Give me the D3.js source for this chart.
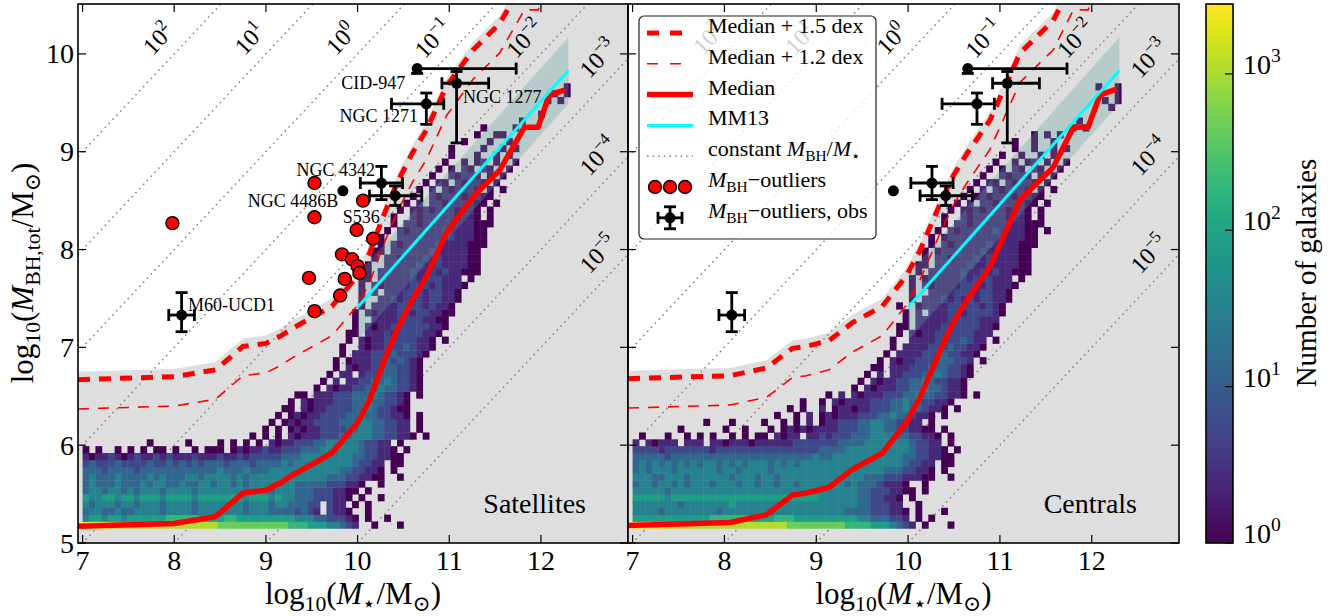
<!DOCTYPE html>
<html>
<head>
<meta charset="utf-8">
<script src="https://cdn.jsdelivr.net/npm/d3@7"></script>
<style>
  body { margin: 0; background: #fff; }
  svg text { font-family: "Liberation Serif", "Times New Roman", Times, "Nimbus Roman", "DejaVu Serif", serif; fill: #000; }
</style>
</head>
<body>
<script>
// ---- data ----
const massTicks = [7, 8, 9, 10, 11, 12]
const bhTicks = [5, 6, 7, 8, 9, 10]
const ratioExps = [2, 1, 0, -1, -2, -3, -4, -5]
const cbarTicks = [1, 10, 100, 1000]
const cbarExps = [0, 1, 2, 3]

// running medians of the two samples
const satMedX = [6.95, 8.0, 8.45, 8.75, 9.0, 9.15, 9.3, 9.55, 9.72, 10.0, 10.13, 10.28, 10.43, 10.6, 10.75, 10.97, 11.26, 11.55, 11.82, 11.97, 12.09, 12.26]
const satMedY = [5.17, 5.20, 5.27, 5.51, 5.54, 5.61, 5.70, 5.83, 5.92, 6.23, 6.46, 6.84, 7.18, 7.49, 7.72, 8.17, 8.54, 8.81, 9.25, 9.25, 9.58, 9.63]
const cenMedX = [6.95, 8.06, 8.46, 8.74, 8.89, 9.14, 9.39, 9.72, 9.98, 10.13, 10.35, 10.49, 10.64, 10.89, 11.22, 11.58, 11.80, 11.96, 12.09, 12.27]
const cenMedY = [5.18, 5.21, 5.29, 5.49, 5.51, 5.57, 5.75, 5.92, 6.23, 6.49, 6.97, 7.25, 7.48, 7.82, 8.51, 8.84, 9.25, 9.25, 9.58, 9.64]
const dexHigh = 1.5
const dexLow = 1.2
const shadeDex = 1.58

// McConnell & Ma 2013 relation
const mm13X = [10.0, 12.3]
const mm13Y = [7.41, 9.83]
const mm13Scatter = 0.34

// simulated outliers (satellites only)
const outX = [7.98, 9.53, 9.53, 9.47, 9.53, 10.06, 9.99, 10.17, 9.83, 9.94, 10.00, 10.02, 9.86, 9.81]
const outY = [8.27, 8.68, 8.33, 7.71, 7.37, 8.50, 8.20, 8.11, 7.95, 7.90, 7.83, 7.76, 7.70, 7.53]

// observed outliers
const obsNames = ['M60-UCD1', 'CID-947', 'NGC 1277', 'NGC 1271', 'NGC 4342', 'NGC 4486B', '']
const obsX = [8.08, 10.65, 11.08, 10.75, 10.26, 10.41, 9.84]
const obsY = [7.33, 9.85, 9.70, 9.49, 8.68, 8.55, 8.60]
const obsXLo = [0.14, 0, 0.16, 0.38, 0.23, 0.28, 0]
const obsXHi = [0.14, 1.08, 0.35, 0.19, 0.23, 0.29, 0]
const obsYLo = [0.17, 0.05, 0.61, 0.21, 0.17, 0.10, 0]
const obsYHi = [0.23, 0, 0.12, 0.11, 0.17, 0.10, 0]

// name tags (left panel)
const tagText = ['CID-947', 'NGC 1277', 'NGC 1271', 'NGC 4342', 'NGC 4486B', 'S536', 'M60-UCD1']
const tagX = [10.52, 11.15, 10.66, 10.19, 9.79, 10.04, 8.15]
const tagY = [9.71, 9.56, 9.37, 8.82, 8.50, 8.34, 7.44]
const tagAnchor = ['end', 'start', 'end', 'end', 'end', 'middle', 'start']

// 2D histograms: bins of 0.07 dex from (7.0, 5.15), rows bottom-up,
// "startCol|levels", level d -> count 10^(0.38 d), '.' = empty
const histX0 = 7.0, histY0 = 5.15, histBin = 0.07, levelDex = 0.38
const satHist = [
  "0|9999888888 8888888888 8777777777 7766655544 321..0...0",
  "0|4554554555 5556666655 5566555555 5554443322 210.0..0.",
  "0|3443343344 4434444344 4444434443 3332321.21 10..0",
  "0|4344434434 4434444344 4444434443 4433322.21 1.0.0",
  "0|5445545545 5545555455 5555545554 5443332221 10.0..0",
  "0|3443443434 4434444344 4444434443 4443332221 100.0",
  "0|3433343334 3443343344 3443434444 4443333322 2110..0",
  "0|3433343333 4343334434 4443434444 4444444433 3221100..0",
  "0|3332333323 3333333333 3433343334 4444444444 3322110.0.",
  "0|2322232222 3223232323 3323332333 3434444444 4432211.00",
  "0|1011210121 1212111211 1211212222 2333444444 4433221100",
  "0|0.0..0.0.0 .00.0..0.0 00.0101121 1222333444 444322110.0",
  "0|.......... 0.....0... .0.0.0.0.1 0112223344 44432211.0",
  "26|0.0.0.1011 1222334443 322110.0",
  "28|0.0.01011 2222334433 2211.0",
  "29|0.01011222 2333443322 11.0",
  "30|0.0101122 2233433221 10.0",
  "31|00.101122 2233432210 0",
  "32|0.1011122 2334332210",
  "33|00.11122 2333432210 .0",
  "36|0.10112 233433221 0",
  "37|0.1.112 23343221 0",
  "38|0.11.12 2333221 0",
  "39|0.1011 22332210",
  "39|0.0111 22323210",
  "40|0.1112 2232221 0",
  "40|0..1011 22232110",
  "41|0.1011 22222110 .0",
  "41|00.1112 12222110",
  "42|0.1011 222222110",
  "42|0..1111 2222110 0",
  "42|0.10111 22122110 0",
  "43|0.1111 22221211 0",
  "43|0..1121 21212211 0",
  "43|0.1.111 22212211 0",
  "43|0.10111 122212111 0",
  "43|00.1111 121222111 .0",
  "44|0.11111 2112121100 0",
  "44|0..1111 1211211110 0.",
  "45|0.1101 1121211110 0",
  "45|00.1111 1121111100",
  "46|0.1011 1112111100 0",
  "46|0..1111 1111211100",
  "47|0.1011 1112111100",
  "48|0.1101 1111111000",
  "48|0..1011 1110110.0",
  "49|0.1010 1110110.0",
  "50|0.1.11 0111100.0",
  "51|0..101 1101100",
  "52|0.1.10 1110.0.0",
  "53|0.10.1 0110.0",
  "54|0..10 110.0.0",
  "55|0.0.1 0.10..0",
  "56|0..0.0 1.0..0",
  "57|0...0.. 0.0",
  "57|0....0 ..0.0",
  "59|0...0 ..0",
  "60|.0..0 0",
  "62|0....0",
  "68|0",
  "69|..0",
  "",
  "72|0.0",
  "73|0.0",
  "75|0"
]
const cenHist = [
  "0|9999988888 8888888888 8888777777 7776666555 4321.0...0",
  "0|5555555555 5566666655 5566655555 5555544333 221.0.0..",
  "0|4444344444 4443444444 4344444444 4443333222 110.0...0",
  "0|4444444344 4444454444 4444444444 4444433222 11..0....",
  "0|5555545555 5555555555 5555555554 4444433221 10.0.....",
  "0|4444434444 4444444444 4444444444 4444433222 1100.0....",
  "0|3443443434 4434443443 4434434444 4443433321 110..0....",
  "0|4443344434 4444434443 4434444444 4444443332 2211100..0",
  "0|3434443444 4443443444 4344444444 4444444443 3322110.0.",
  "0|3434343434 3443434344 4343434444 4444444444 4432211.00",
  "0|3333323333 3333333333 3333333343 3444444444 4433221100",
  "0|2222122222 2212222222 2222222223 3334444444 444322110.0",
  "0|1.10111.11 1.11011101 1111122222 2233334444 44432211.0",
  "0|.0...0..0. 0.0..0.0.0 0.1011.112 1222333444 43322110.0",
  "0|.......0.. ....0..0.. .0.0101011 1122233443 3221100.0",
  "0|.......... .0...0.... 0..0.0.1.0 1122233443 32211.0",
  "22|0..0.1.0 1011122233 4332110.0",
  "24|0.0..1.01 1011222334 332110.0",
  "26|0..0.101 1112223343 322110",
  "30|0.1.1011 1222334332 2110.0",
  "34|0.101112 2334332 110",
  "35|0.10112 2334322 11 0",
  "36|0.1.1122 23343221 0",
  "37|00.11122 23332210",
  "38|0.10112 22333221 .0",
  "39|0.1111 22232211 0",
  "40|0.11112 2232211 0",
  "40|0..1111 22223211 .0",
  "41|0.10112 22222111",
  "41|00.1111 22222211 0",
  "42|0.11111 22222111",
  "42|0.1.111 22122221 0",
  "41|0..01111 22222121 0",
  "43|0.11121 21212211 0",
  "43|0..1111 22212211 0",
  "43|0.10111 122212111 0",
  "43|0.01111 121222111 .0",
  "44|0.11111 2112121100 0",
  "44|00.1111 1211211110 0.",
  "45|0.1101 1121211110 0",
  "45|0.01111 1121111100",
  "46|0.1011 1112111100 0",
  "46|0.01111 1111211100",
  "47|0.1011 1112111100 .0",
  "48|0.1101 1111111000",
  "48|0..1011 1110110.0",
  "49|0.1010 1110110.0",
  "50|0.1.11 0111100.0",
  "51|0.0101 1101100",
  "52|0.1.10 1110.0.0",
  "53|0.10.1 0110.0",
  "54|0..10 110.0.0",
  "55|0.0.1 0.10..0",
  "56|0..0.0 1.0..0",
  "57|0..0.. 0.0",
  "58|.0..0 ..0.0",
  "59|0..0 ..0",
  "62|0.0.0",
  "68|0.0",
  "69|0",
  "",
  "74|0",
  "73|0.0",
  "73|..0",
  "72|0..0"
]

// ---- layout ----
const width = 1333, height = 616
const plotTop = 4, plotBottom = 543
const massDomain = [6.95, 12.95]
const bhDomain = [5, 10.51]
const cmax = 2800
const serif = '"Liberation Serif", "Times New Roman", Times, "Nimbus Roman", "DejaVu Serif", serif'

const svg = d3.select('body').append('svg')
    .attr('width', width)
    .attr('height', height)
    .attr('font-family', serif)
const defs = svg.append('defs')

const color = d3.scaleSequentialLog(d3.interpolateViridis).domain([1, cmax])

function rich(sel, parts, fs) {
    let shift = 0
    parts.forEach(p => {
        const target = p.sub ? fs * 0.22 : p.sup ? -fs * 0.42 : 0
        const ts = sel.append('tspan').text(p.t).attr('dy', target - shift)
        if (p.sub || p.sup) ts.attr('font-size', fs * 0.7)
        if (p.it) ts.style('font-style', 'italic')
        shift = target
    })
}

function parseRow(row, j) {
    if (!row) return []
    const [start, levels] = row.split('|')
    const s = levels.replace(/ /g, '')
    const out = []
    for (let i = 0; i < s.length; i++) {
        if (s[i] !== '.') out.push({ col: +start + i, row: j, count: Math.pow(10, +s[i] * levelDex) })
    }
    return out
}

const panels = [
    { x0: 78, x1: 628, title: 'Satellites', medX: satMedX, medY: satMedY, hist: satHist, outliers: true, names: true, yLabels: true },
    { x0: 628, x1: 1179, title: 'Centrals', medX: cenMedX, medY: cenMedY, hist: cenHist, outliers: false, names: false, yLabels: false }
]

const tickFont = 28

panels.forEach((p, pi) => {
    const x = d3.scaleLinear().domain(massDomain).range([p.x0, p.x1])
    const y = d3.scaleLinear().domain(bhDomain).range([plotBottom, plotTop])

    defs.append('clipPath').attr('id', 'clip' + pi)
        .append('rect')
        .attr('x', p.x0).attr('y', plotTop)
        .attr('width', p.x1 - p.x0).attr('height', plotBottom - plotTop)

    const g = svg.append('g')
    const plot = g.append('g').attr('clip-path', `url(#clip${pi})`)

    const med = p.medX.map((v, i) => [v, p.medY[i]])

    // shaded region below the upper envelope
    const shade = [[massDomain[0], med[0][1] + shadeDex]]
        .concat(med.map(d => [d[0], d[1] + shadeDex]))
        .concat([[massDomain[1], med[med.length - 1][1] + shadeDex]])
    plot.append('path')
        .datum(shade)
        .attr('d', d3.area().x(d => x(d[0])).y0(y(bhDomain[0])).y1(d => y(d[1])))
        .attr('fill', '#dedede')

    // constant ratio lines
    plot.selectAll('.ratio')
        .data(ratioExps)
        .enter().append('line')
        .attr('x1', x(massDomain[0])).attr('x2', x(massDomain[1]))
        .attr('y1', k => y(massDomain[0] + k)).attr('y2', k => y(massDomain[1] + k))
        .style('stroke', '#8a8a8a')
        .style('stroke-width', 1.6)
        .style('stroke-dasharray', '1.6,4')

    // 2D histogram
    const cells = p.hist.flatMap((row, j) => parseRow(row, j))
    plot.selectAll('.cell')
        .data(cells)
        .enter().append('rect')
        .attr('class', 'cell')
        .attr('x', d => x(histX0 + d.col * histBin))
        .attr('y', d => y(histY0 + (d.row + 1) * histBin))
        .attr('width', d => x(histX0 + (d.col + 1) * histBin) - x(histX0 + d.col * histBin) + 0.4)
        .attr('height', d => y(histY0 + d.row * histBin) - y(histY0 + (d.row + 1) * histBin) + 0.4)
        .style('fill', d => color(d.count))

    // MM13 scatter band
    const band = [
        [mm13X[0], mm13Y[0] + mm13Scatter], [mm13X[1], mm13Y[1] + mm13Scatter],
        [mm13X[1], mm13Y[1] - mm13Scatter], [mm13X[0], mm13Y[0] - mm13Scatter]
    ]
    plot.append('polygon')
        .attr('points', band.map(d => [x(d[0]), y(d[1])].join(',')).join(' '))
        .style('fill', '#5f9ea0')
        .style('fill-opacity', 0.3)

    const line = d3.line().x(d => x(d[0])).y(d => y(d[1]))
    plot.append('path')
        .datum(med.map(d => [d[0], d[1] + dexLow]))
        .attr('d', line)
        .style('fill', 'none').style('stroke', 'red')
        .style('stroke-width', 1.6).style('stroke-dasharray', '11,9')
    plot.append('path')
        .datum(med.map(d => [d[0], d[1] + dexHigh]))
        .attr('d', line)
        .style('fill', 'none').style('stroke', 'red')
        .style('stroke-width', 5).style('stroke-dasharray', '12,9')
    plot.append('path')
        .datum(med)
        .attr('d', line)
        .style('fill', 'none').style('stroke', 'red')
        .style('stroke-width', 5.5).style('stroke-linejoin', 'round')
    plot.append('path')
        .datum(mm13X.map((v, i) => [v, mm13Y[i]]))
        .attr('d', line)
        .style('fill', 'none').style('stroke', 'cyan')
        .style('stroke-width', 3)

    if (p.outliers) {
        plot.selectAll('.outlier')
            .data(outX)
            .enter().append('circle')
            .attr('cx', d => x(d))
            .attr('cy', (d, i) => y(outY[i]))
            .attr('r', 6.5)
            .style('fill', 'red')
            .style('stroke', '#000')
            .style('stroke-width', 1.4)
    }

    // observed outliers with error bars
    obsX.forEach((ox, i) => {
        const cx = x(ox), cy = y(obsY[i])
        const eb = plot.append('g').style('stroke', '#000').style('stroke-width', 2.8)
        if (obsXLo[i] || obsXHi[i]) {
            const xa = x(ox - obsXLo[i]), xb = x(ox + obsXHi[i])
            eb.append('line').attr('x1', xa).attr('x2', xb).attr('y1', cy).attr('y2', cy)
            if (obsXLo[i]) eb.append('line').attr('x1', xa).attr('x2', xa).attr('y1', cy - 6).attr('y2', cy + 6)
            if (obsXHi[i]) eb.append('line').attr('x1', xb).attr('x2', xb).attr('y1', cy - 6).attr('y2', cy + 6)
        }
        if (obsYLo[i] || obsYHi[i]) {
            const ya = y(obsY[i] - obsYLo[i]), yb = y(obsY[i] + obsYHi[i])
            eb.append('line').attr('x1', cx).attr('x2', cx).attr('y1', ya).attr('y2', yb)
            if (obsYLo[i]) eb.append('line').attr('x1', cx - 6).attr('x2', cx + 6).attr('y1', ya).attr('y2', ya)
            if (obsYHi[i]) eb.append('line').attr('x1', cx - 6).attr('x2', cx + 6).attr('y1', yb).attr('y2', yb)
        }
        plot.append('circle').attr('cx', cx).attr('cy', cy).attr('r', 5.5).style('fill', '#000')
    })

    if (p.names) {
        g.selectAll('.tag')
            .data(tagText)
            .enter().append('text')
            .attr('x', (d, i) => x(tagX[i]))
            .attr('y', (d, i) => y(tagY[i]))
            .attr('dy', '0.35em')
            .style('text-anchor', (d, i) => tagAnchor[i])
            .style('font-size', '18px')
            .text(d => d)
    }

    // ratio labels along the dotted lines
    const ux = x(massDomain[0] + 1) - x(massDomain[0])
    const uy = y(bhDomain[0] + 1) - y(bhDomain[0])
    const norm = Math.hypot(ux, uy)
    const angle = Math.atan2(uy, ux) * 180 / Math.PI
    ratioExps.forEach(k => {
        const ax = k >= -2 ? 10 - k : 12.8
        const ay = ax + k
        const px = x(ax) + 14 * (uy / norm)
        const py = y(ay) - 14 * (ux / norm)
        const t = g.append('text')
            .attr('transform', `translate(${px},${py}) rotate(${angle})`)
            .attr('dy', '0.35em')
            .style('text-anchor', 'middle')
            .style('font-size', '24px')
        rich(t, [{ t: '10' }, { t: String(k).replace('-', '\u2212'), sup: true }], 24)
    })

    // frame and ticks
    g.append('rect')
        .attr('x', p.x0).attr('y', plotTop)
        .attr('width', p.x1 - p.x0).attr('height', plotBottom - plotTop)
        .style('fill', 'none').style('stroke', '#000').style('stroke-width', 1.6)

    const tk = g.append('g').style('stroke', '#000').style('stroke-width', 1.2)
    massTicks.forEach(v => {
        tk.append('line').attr('x1', x(v)).attr('x2', x(v)).attr('y1', plotBottom).attr('y2', plotBottom - 8)
        tk.append('line').attr('x1', x(v)).attr('x2', x(v)).attr('y1', plotTop).attr('y2', plotTop + 8)
    })
    bhTicks.forEach(v => {
        tk.append('line').attr('x1', p.x0).attr('x2', p.x0 + 8).attr('y1', y(v)).attr('y2', y(v))
        tk.append('line').attr('x1', p.x1).attr('x2', p.x1 - 8).attr('y1', y(v)).attr('y2', y(v))
    })

    g.selectAll('.xtl')
        .data(massTicks)
        .enter().append('text')
        .attr('x', d => x(d))
        .attr('y', 570)
        .style('text-anchor', 'middle')
        .style('font-size', tickFont + 'px')
        .text(d => d)

    if (p.yLabels) {
        g.selectAll('.ytl')
            .data(bhTicks)
            .enter().append('text')
            .attr('x', p.x0 - 4)
            .attr('y', d => y(d))
            .attr('dy', '0.34em')
            .style('text-anchor', 'end')
            .style('font-size', tickFont + 'px')
            .text(d => d)
    }

    g.append('text')
        .attr('x', p.x1 - 42)
        .attr('y', 513)
        .style('text-anchor', 'end')
        .style('font-size', '28px')
        .text(p.title)

    const xl = g.append('text')
        .attr('x', (p.x0 + p.x1) / 2)
        .attr('y', 604)
        .style('text-anchor', 'middle')
        .style('font-size', '31px')
    rich(xl, [{ t: 'log' }, { t: '10', sub: true }, { t: '(' }, { t: 'M', it: true }, { t: '\u22c6', sub: true }, { t: '/M' }, { t: '\u2299', sub: true }, { t: ')' }], 31)
})

// y axis label
const yl = svg.append('text')
    .attr('transform', 'translate(33,273) rotate(-90)')
    .style('text-anchor', 'middle')
    .style('font-size', '31px')
rich(yl, [{ t: 'log' }, { t: '10', sub: true }, { t: '(' }, { t: 'M', it: true }, { t: 'BH,tot', sub: true }, { t: '/M' }, { t: '\u2299', sub: true }, { t: ')' }], 31)

// ---- legend ----
const lg = svg.append('g')
lg.append('rect')
    .attr('x', 639).attr('y', 16).attr('width', 237).attr('height', 223).attr('rx', 5)
    .style('fill', '#fff').style('fill-opacity', 0.82)
    .style('stroke', '#222').style('stroke-width', 1.2)
const rowY = i => 33 + i * 30.8
const hx0 = 647, hx1 = 693, hxm = 670, tx = 708
const legendLines = [
    { dash: '12,11', w: 5, c: 'red' },
    { dash: '11,12', w: 1.6, c: 'red' },
    { dash: null, w: 5.5, c: 'red' },
    { dash: null, w: 3, c: 'cyan' },
    { dash: '1.6,4', w: 1.6, c: '#8a8a8a' }
]
legendLines.forEach((d, i) => {
    const l = lg.append('line')
        .attr('x1', hx0).attr('x2', hx1).attr('y1', rowY(i)).attr('y2', rowY(i))
        .style('stroke', d.c).style('stroke-width', d.w)
    if (d.dash) l.style('stroke-dasharray', d.dash)
})
;[655, 670, 685].forEach(cx => {
    lg.append('circle').attr('cx', cx).attr('cy', rowY(5)).attr('r', 6.5)
        .style('fill', 'red').style('stroke', '#000').style('stroke-width', 1.4)
})
const le = lg.append('g').style('stroke', '#000').style('stroke-width', 2.8)
le.append('line').attr('x1', hxm - 12).attr('x2', hxm + 12).attr('y1', rowY(6)).attr('y2', rowY(6))
le.append('line').attr('x1', hxm).attr('x2', hxm).attr('y1', rowY(6) - 11).attr('y2', rowY(6) + 11)
;[-12, 12].forEach(o => {
    le.append('line').attr('x1', hxm + o).attr('x2', hxm + o).attr('y1', rowY(6) - 6).attr('y2', rowY(6) + 6)
})
;[-11, 11].forEach(o => {
    le.append('line').attr('x1', hxm - 6).attr('x2', hxm + 6).attr('y1', rowY(6) + o).attr('y2', rowY(6) + o)
})
lg.append('circle').attr('cx', hxm).attr('cy', rowY(6)).attr('r', 5.5).style('fill', '#000')

const legendText = [
    [{ t: 'Median + 1.5 dex' }],
    [{ t: 'Median + 1.2 dex' }],
    [{ t: 'Median' }],
    [{ t: 'MM13' }],
    [{ t: 'constant ' }, { t: 'M', it: true }, { t: 'BH', sub: true }, { t: '/' }, { t: 'M', it: true }, { t: '\u22c6', sub: true }],
    [{ t: 'M', it: true }, { t: 'BH', sub: true }, { t: '\u2212outliers' }],
    [{ t: 'M', it: true }, { t: 'BH', sub: true }, { t: '\u2212outliers, obs' }]
]
legendText.forEach((parts, i) => {
    const t = lg.append('text')
        .attr('x', tx).attr('y', rowY(i))
        .attr('dy', '0.35em')
        .style('font-size', '22px')
    rich(t, parts, 22)
})

// ---- colour bar ----
const cbX = 1206, cbW = 27
const cb = d3.scaleLog().domain([1, cmax]).range([plotBottom, plotTop])
const grad = defs.append('linearGradient').attr('id', 'viridis')
    .attr('x1', 0).attr('y1', 1).attr('x2', 0).attr('y2', 0)
d3.range(0, 1.0001, 0.05).forEach(t => {
    grad.append('stop').attr('offset', t).attr('stop-color', d3.interpolateViridis(t))
})
svg.append('rect')
    .attr('x', cbX).attr('y', plotTop).attr('width', cbW).attr('height', plotBottom - plotTop)
    .style('fill', 'url(#viridis)')
    .style('stroke', '#000').style('stroke-width', 1.6)
cbarTicks.forEach((v, i) => {
    svg.append('line')
        .attr('x1', cbX + cbW - 8).attr('x2', cbX + cbW)
        .attr('y1', cb(v)).attr('y2', cb(v))
        .style('stroke', '#000').style('stroke-width', 1.2)
    const t = svg.append('text')
        .attr('x', cbX + cbW + 10).attr('y', cb(v))
        .attr('dy', '0.34em')
        .style('font-size', tickFont + 'px')
    rich(t, [{ t: '10' }, { t: String(cbarExps[i]), sup: true }], tickFont)
})
svg.append('text')
    .attr('transform', 'translate(1316,273) rotate(-90)')
    .style('text-anchor', 'middle')
    .style('font-size', '29px')
    .text('Number of galaxies')
</script>
</body>
</html>
